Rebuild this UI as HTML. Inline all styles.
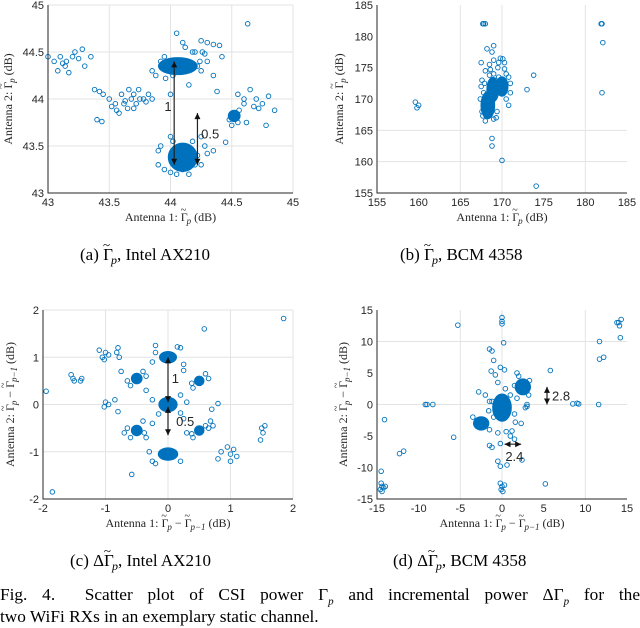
<!DOCTYPE html>
<html><head><meta charset="utf-8">
<style>
body{margin:0;background:#fff;width:640px;height:627px;overflow:hidden;position:relative}
svg{position:absolute;left:0;top:0}
.tk{font-family:"Liberation Sans",sans-serif;font-size:11px;fill:#262626}
.al{font-family:"Liberation Serif",serif;font-size:12px;fill:#262626}
.cap{font-family:"Liberation Serif",serif;font-size:17px;fill:#000}
.figcap{position:absolute;left:0;width:640px;font-family:"Liberation Serif",serif;font-size:17.3px;color:#000;line-height:22px;margin:0}
.j{text-align:justify;text-align-last:justify}
</style></head><body>
<svg id="chart" width="640" height="627">
<text class="cap" x="80" y="260">(a) Γ<tspan dx="-10" dy="-11" font-size="13">~</tspan><tspan dx="1" dy="15" font-style="italic" font-size="12">p</tspan><tspan dy="-4">, Intel AX210</tspan></text>
<text class="cap" x="400" y="260">(b) Γ<tspan dx="-10" dy="-11" font-size="13">~</tspan><tspan dx="1" dy="15" font-style="italic" font-size="12">p</tspan><tspan dy="-4">, BCM 4358</tspan></text>
<text class="cap" x="70" y="566">(c) ΔΓ<tspan dx="-10" dy="-11" font-size="13">~</tspan><tspan dx="1" dy="15" font-style="italic" font-size="12">p</tspan><tspan dy="-4">, Intel AX210</tspan></text>
<text class="cap" x="393" y="566">(d) ΔΓ<tspan dx="-10" dy="-11" font-size="13">~</tspan><tspan dx="1" dy="15" font-style="italic" font-size="12">p</tspan><tspan dy="-4">, BCM 4358</tspan></text>
</svg>
<p class="figcap j" style="top:584px">Fig. 4. &nbsp;Scatter plot of CSI power Γ<sub><i>p</i></sub> and incremental power ΔΓ<sub><i>p</i></sub> for the</p>
<p class="figcap" style="top:606px">two WiFi RXs in an exemplary static channel.</p>
<style>.figcap sub{font-size:11px;line-height:0}</style>
<script>
// ---- Panel A data ----
const aX=[43.0,43.05,43.1,43.12,43.15,43.2,43.22,43.25,43.28,43.3,43.35,43.08,43.17,43.14,
43.38,43.42,43.45,43.5,43.55,43.6,43.62,43.65,43.68,43.7,43.72,43.75,43.78,43.8,43.82,43.52,43.58,43.4,43.44,43.66,43.74,43.85,43.63,43.56,43.7,
44.05,44.1,44.25,44.3,44.35,44.4,44.42,44.3,44.25,44.35,44.15,43.85,44.0,44.38,44.2,44.28,
44.55,44.6,44.65,44.7,44.75,44.8,44.85,44.78,44.62,44.5,44.6,44.68,44.72,44.45,44.63,
43.9,43.95,44.0,44.05,44.15,44.2,44.3,44.35,43.92,44.0,44.25,44.28,
43.88,43.92,44.22,44.26,44.18,44.12,43.95,44.02,44.24,43.96,44.22,44.18,44.02,43.9,44.25,44.1,44.56,44.48,44.55];
const aY=[44.45,44.4,44.45,44.38,44.4,44.45,44.5,44.43,44.53,44.35,44.45,44.3,44.28,44.35,
44.1,44.08,44.05,44.0,43.95,44.05,43.95,43.9,44.0,44.05,43.95,44.0,44.0,43.97,44.05,43.92,43.85,43.78,43.76,44.1,44.1,44.0,43.98,43.88,43.9,
44.7,44.6,44.62,44.6,44.58,44.57,44.45,44.4,44.3,44.25,44.15,44.3,44.05,44.08,44.5,44.48,
44.05,44.0,44.1,44.0,43.95,44.03,43.88,43.72,43.75,43.72,43.95,43.92,43.9,43.54,44.8,
43.3,43.25,43.22,43.2,43.2,43.3,43.42,43.45,43.5,43.6,43.6,43.5,
44.25,44.4,44.35,44.5,44.5,44.55,44.45,44.25,44.4,44.22,43.4,43.55,43.55,43.45,43.3,43.25,43.88,43.78,43.75];
const aBlobX=[44.06,44.1,44.52], aBlobY=[44.35,43.38,43.82], aBlobRX=[0.15,0.11,0.04], aBlobRY=[0.08,0.14,0.05];
const aXTicks=[43,43.5,44,44.5,45], aYTicks=[43,43.5,44,44.5,45];
// ---- Panel B data ----
const bX=[167.8,168,167.7,168.2,168.8,169,169,169.8,170.1,170.3,167.5,168,168.5,167.5,171,170.8,173,173.8,159.6,159.8,160,168.8,168.8,170,174.1,182,181.9,182.1,182,169,169.5,168.5,170.5,167.8,167.6,168,169.3,169,170.5,171,169.6,167.6,167.9,168.6,169.2,167.4,167.7,169.4,170.8,169.6,170.3];
const bY=[182,182,182,178,177.5,178.5,176.2,176.5,176.4,175.8,175.8,174.5,173.8,172,171,169,171.5,173.8,169.5,168.6,169,163.7,162.5,160.2,156.1,182,182,179,171,174,175,175.5,174,171,168,166.5,167,166.8,170,172.5,173.5,173,172.5,174.7,173,170,167.3,168,173.5,175.8,174.8];
const bBlobX=[168.3,170,168.9], bBlobY=[169,172,171.5], bBlobRX=[0.7,0.6,0.6], bBlobRY=[2.0,1.4,1.8];
const bXTicks=[155,160,165,170,175,180,185], bYTicks=[155,160,165,170,175,180,185];
// ---- Panel C data ----
const cX=[-1.95,-1.85,-1.55,-1.52,-1.5,-1.4,-1.38,-1.1,-1.05,-1.0,-0.95,-1.02,-0.8,-0.78,-0.82,-1.0,-0.95,-1.02,-0.85,-0.8,-0.75,-0.35,0.58,1.85,0.25,0.8,0.7,0.95,1.0,1.05,0.85,1.1,0.8,1.0,1.5,1.52,1.48,1.55,-0.58,-0.35,-0.3,-0.25,0.3,0.68,0.72,-0.7,-0.25,0.25,0.2,-0.2,0.25,-0.25,0.2,-0.25,0.3,-0.6,-0.4,0.6,0.4,-0.6,-0.4,0.6,0.4,-0.2,0.15,-0.15,0.2,-0.2,0.2,-0.65,-0.35,0.65,0.38,-0.65,-0.38,0.65,0.38];
const cY=[0.28,-1.85,0.63,0.55,0.5,0.5,0.55,1.15,1.0,1.1,1.05,0.95,1.2,1.0,1.1,0.05,0.0,-0.05,0.1,-0.15,0.7,0.3,1.6,1.82,0.72,0.02,-0.1,-0.9,-1.05,-0.95,-1.0,-1.1,-1.15,-1.2,-0.5,-0.6,-0.75,-0.45,-1.48,-0.7,-1.0,-1.2,-0.6,-0.35,-0.45,-0.6,-0.4,-0.3,1.2,1.1,0.85,0.9,0.2,0.1,0.05,0.4,0.7,0.65,0.35,-0.7,-0.35,-0.45,-0.7,1.25,1.22,-0.2,-0.18,-1.25,-1.2,0.5,0.6,0.55,0.45,-0.5,-0.6,-0.5,-0.62];
const cBlobX=[0,0,0,-0.5,0.5,-0.5,0.5], cBlobY=[1.0,0,-1.05,0.55,0.5,-0.55,-0.55], cBlobRX=[0.12,0.13,0.14,0.07,0.06,0.07,0.06], cBlobRY=[0.1,0.13,0.11,0.09,0.08,0.09,0.08];
const cXTicks=[-2,-1,0,1,2], cYTicks=[-2,-1,0,1,2];
// ---- Panel D data ----
const dX=[-5.3,0,0,0,0.2,-1.5,-1.2,-1,-1.3,-0.8,-0.2,0.3,5.8,14,14.1,13.8,14.3,14.2,11.7,11.7,12.2,-9.2,-9,-8.3,8.5,9,9.2,11.6,3,-14.1,-5.8,-12.3,-11.8,-14.5,-14.5,-14.4,-14.6,-14.2,-14.4,-14.0,-0.2,0,0.3,-0.1,0.1,5.2,-0.5,-0.2,0.6,2.4,-0.2,-1.5,-1.2,1.2,1.0,1.5,2.3,-0.5,0.5,-2.8,-2,1.5,3.3,2,1.5,-1,1,-1.2,2.8,3,-0.5,0.4,-1.6,1.8,-3.5,-1.5,3.2,1.8,-1.5,1.6];
const dY=[12.6,13.8,13.2,12.8,9.8,8.8,8.5,7,5.3,4.7,5.9,5.5,5.4,13,12.5,13,13.5,10.6,10,7.2,7.5,0,0,0,0.1,0.2,0.1,0,-0.3,-2.4,-5.2,-7.8,-7.4,-10.6,-12.5,-13,-13.5,-13.2,-13.8,-13,-12.5,-13,-12.8,-13.5,-13.8,-12.6,-9,-9.8,-9.6,-8.8,-6.2,-6.5,-6.8,-4.2,-5,-5.5,-3,-4.5,-4.3,2,1.5,3,3.8,4.5,-1.5,-2,1.5,0.5,-0.5,0,3.5,2.5,-1,5,-2,-4,1.5,1,0.5,-2.8];
const dBlobX=[0,2.5,-2.5], dBlobY=[-0.5,2.8,-3], dBlobRX=[1.0,0.8,0.8], dBlobRY=[2.0,1.1,0.9];
const dXTicks=[-15,-10,-5,0,5,10,15], dYTicks=[-15,-10,-5,0,5,10,15];

const NS='http://www.w3.org/2000/svg', svg=document.getElementById('chart');
const C='#0072BD';
function mk(tag,attrs,parent){const e=document.createElementNS(NS,tag);for(const k in attrs)e.setAttribute(k,attrs[k]);(parent||svg).appendChild(e);return e;}
function panel(p){
  const g=mk('g',{});
  
  
  const sx=v=>p.x0+(v-p.xmin)/(p.xmax-p.xmin)*(p.x1-p.x0);
  const sy=v=>p.y1-(v-p.ymin)/(p.ymax-p.ymin)*(p.y1-p.y0);
  p.gx.forEach(v=>{const l=mk('line',{x1:sx(v),x2:sx(v),y1:p.y0,y2:p.y1,stroke:'#e3e3e3','stroke-width':1},g);});
  p.gy.forEach(v=>{const l=mk('line',{x1:p.x0,x2:p.x1,y1:sy(v),y2:sy(v),stroke:'#e3e3e3','stroke-width':1},g);});
  p.bx.forEach((v,i)=>{const e=mk('ellipse',{cx:sx(v),cy:sy(p.by[i]),rx:Math.abs(sx(v+p.brx[i])-sx(v))+1,ry:Math.abs(sy(p.by[i]+p.bry[i])-sy(p.by[i]))+1,fill:C,stroke:C,'stroke-width':1},g);});
  p.xs.forEach((v,i)=>{const c=mk('circle',{cx:sx(v),cy:sy(p.ys[i]),r:2.3,fill:'none',stroke:C,'stroke-width':0.9},g);});
  const ax=mk('path',{d:`M${p.x0},${p.y0}V${p.y1}H${p.x1}`,fill:'none',stroke:'#262626','stroke-width':1},g);
  
  p.xt.forEach(v=>{const t=mk('text',{x:sx(v),y:p.y1+13,'text-anchor':'middle',class:'tk'},g);t.textContent=v;});
  p.yt.forEach(v=>{const t=mk('text',{x:p.x0-4,y:sy(v)+4,'text-anchor':'end',class:'tk'},g);t.textContent=v;});
  const xl=mk('text',{x:(p.x0+p.x1)/2,y:p.y1+28,'text-anchor':'middle',class:'al'},g);xl.innerHTML=p.xl;
  
  const yl=mk('text',{x:0,y:0,'text-anchor':'middle',class:'al',transform:`translate(${p.ylx},${(p.y0+p.y1)/2}) rotate(-90)`},g);yl.innerHTML=p.yl;
  
  (p.arrows||[]).forEach(a=>{
    const x1=sx(a[0]),y1=sy(a[1]),x2=sx(a[2]),y2=sy(a[3]);
    const l=mk('line',{x1,y1,x2,y2,stroke:'#222','stroke-width':1.2},g);
    [[x1,y1,x2,y2],[x2,y2,x1,y1]].forEach(q=>{const ang=Math.atan2(q[3]-q[1],q[2]-q[0]);const hx=q[2],hy=q[3];
      const pts=[[hx,hy],[hx-6*Math.cos(ang)+3*Math.sin(ang),hy-6*Math.sin(ang)-3*Math.cos(ang)],[hx-6*Math.cos(ang)-3*Math.sin(ang),hy-6*Math.sin(ang)+3*Math.cos(ang)]];
      mk('polygon',{points:pts.map(z=>z.join(',')).join(' '),fill:'#111'},g);});
  });
  (p.labels||[]).forEach(a=>{const t=mk('text',{x:sx(a[0]),y:sy(a[1]),class:'tk',style:'font-size:13px'},g);t.textContent=a[2];});
}
const T='Γ<tspan dx="-7" dy="-8" font-size="10">~</tspan><tspan dx="0.5" dy="11" font-style="italic" font-size="9">p</tspan>';
const G1=T+'<tspan dy="-3"> (dB)</tspan>';
const G2=T+'<tspan dy="-3"> − </tspan>'+T+'<tspan font-style="italic" font-size="9">−1</tspan><tspan dy="-3"> (dB)</tspan>';
panel({name:'panel-a',x0:48,x1:293,y0:5,y1:193,xmin:43,xmax:45,ymin:43,ymax:45,gx:[43.5,44,44.5,45],gy:[43.5,44,44.5,45],xs:aX,ys:aY,bx:aBlobX,by:aBlobY,brx:aBlobRX,bry:aBlobRY,xt:aXTicks,yt:aYTicks,xl:'Antenna 1: '+G1,yl:'Antenna 2: '+G1,ylx:12,
 arrows:[[44.03,44.4,44.03,43.3],[44.22,43.3,44.22,43.85]],labels:[[43.95,43.87,'1'],[44.25,43.58,'0.5']]});
panel({name:'panel-b',x0:377,x1:627,y0:5,y1:193,xmin:155,xmax:185,ymin:155,ymax:185,gx:[165,170,180],gy:[160,165],xs:bX,ys:bY,bx:bBlobX,by:bBlobY,brx:bBlobRX,bry:bBlobRY,xt:bXTicks,yt:bYTicks,xl:'Antenna 1: '+G1,yl:'Antenna 2: '+G1,ylx:343});
panel({name:'panel-c',x0:43,x1:293,y0:310,y1:499,xmin:-2,xmax:2,ymin:-2,ymax:2,gx:[-1,0,1,2],gy:[-1,0,1,2],xs:cX,ys:cY,bx:cBlobX,by:cBlobY,brx:cBlobRX,bry:cBlobRY,xt:cXTicks,yt:cYTicks,xl:'Antenna 1: '+G2,yl:'Antenna 2: '+G2,ylx:14,
 arrows:[[0,1.0,0,0.05],[0,-0.05,0,-0.65]],labels:[[0.06,0.45,'1'],[0.13,-0.45,'0.5']]});
panel({name:'panel-d',x0:377,x1:627,y0:310,y1:499,xmin:-15,xmax:15,ymin:-15,ymax:15,gx:[-5,0,10],gy:[0,10],xs:dX,ys:dY,bx:dBlobX,by:dBlobY,brx:dBlobRX,bry:dBlobRY,xt:dXTicks,yt:dYTicks,xl:'Antenna 1: '+G2,yl:'Antenna 2: '+G2,ylx:347,
 arrows:[[5.4,0,5.4,2.8],[0.3,-6.3,2.3,-6.3]],labels:[[6.0,0.6,'2.8'],[0.4,-9.0,'2.4']]});
</script>
</body></html>
